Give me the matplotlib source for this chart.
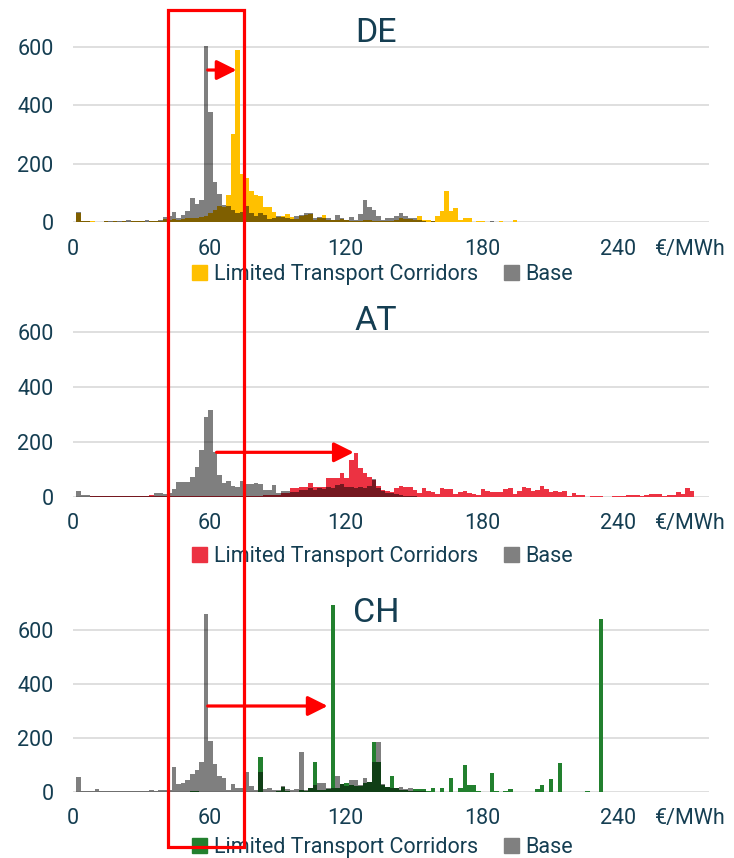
import numpy as np
import matplotlib.pyplot as plt
from matplotlib.patches import Patch, Rectangle

plt.rcParams['font.family'] = ['Roboto', 'DejaVu Sans']

# price bins of 2 €/MWh (centres), 139 bins
bin_centers = np.arange(2.5, 280, 2.0)

de_ltc = [30, 4, 5, 2, 1, 1, 2, 1, 4, 1,
          5, 1, 2, 5, 2, 1, 2, 4, 2, 10,
          8, 10, 8, 10, 15, 15, 12, 17, 20, 30,
          40, 55, 50, 91, 300, 590, 166, 150, 105, 91,
          90, 50, 50, 33, 18, 20, 27, 18, 10, 20,
          23, 28, 8, 12, 23, 8, 8, 8, 10, 8,
          5, 3, 5, 8, 6, 5, 3, 2, 5, 5,
          8, 12, 10, 10, 8, 20, 6, 6, 2, 20,
          37, 106, 37, 49, 8, 12, 13, 0, 5, 5,
          0, 0, 0, 4, 0, 0, 6, 0, 0, 0] + [0] * 39
de_base = [35, 5, 2, 1, 1, 1, 3, 4, 2, 2,
           2, 6, 2, 2, 2, 6, 2, 3, 8, 17,
           22, 34, 14, 23, 38, 83, 60, 77, 605, 377,
           137, 97, 57, 55, 40, 30, 35, 55, 30, 20,
           30, 25, 10, 15, 20, 18, 15, 10, 20, 25,
           31, 31, 12, 17, 12, 12, 8, 23, 12, 8,
           17, 8, 27, 75, 52, 40, 21, 8, 14, 14,
           21, 32, 20, 14, 12, 8, 3, 0, 2, 0,
           0, 0, 0, 0, 0, 0, 0, 0, 0, 0,
           0, 3, 0, 0, 0, 0, 0, 0, 0, 0] + [0] * 39

at_ltc = [0, 0, 0, 1, 1, 1, 1, 1, 2, 2,
          2, 2, 3, 3, 2, 3, 7, 3, 3, 3,
          3, 3, 2, 2, 3, 3, 3, 3, 4, 3,
          3, 2, 2, 2, 2, 2, 3, 3, 3, 3,
          3, 6, 6, 5, 5, 12, 15, 30, 30, 36,
          36, 51, 36, 36, 36, 67, 67, 67, 87, 67,
          133, 161, 103, 87, 73, 61, 40, 24, 22, 18,
          30, 39, 36, 36, 24, 12, 30, 20, 18, 10,
          30, 28, 28, 10, 18, 20, 12, 10, 8, 28,
          20, 18, 18, 18, 28, 33, 10, 22, 36, 30,
          22, 24, 40, 28, 18, 20, 18, 20, 3, 12,
          8, 8, 0, 2, 3, 2, 0, 0, 2, 2,
          2, 8, 8, 8, 3, 5, 10, 10, 10, 3,
          6, 8, 18, 10, 30, 20, 0, 0, 0]
at_base = [22, 8, 5, 3, 2, 1, 1, 1, 1, 1,
           1, 1, 1, 2, 2, 3, 4, 15, 15, 10,
           12, 27, 55, 55, 55, 73, 109, 172, 291, 315,
           164, 79, 51, 57, 40, 36, 57, 48, 48, 51,
           46, 24, 24, 42, 12, 20, 20, 18, 18, 24,
           24, 30, 24, 33, 27, 36, 33, 42, 46, 36,
           36, 30, 36, 30, 39, 64, 30, 21, 15, 12,
           10, 6, 3, 2, 1, 0, 0, 0, 0, 0] + [0] * 59

ch_ltc = [0, 0, 0, 0, 0, 0, 0, 0, 0, 0,
          0, 0, 0, 0, 0, 0, 0, 0, 0, 0,
          0, 0, 0, 0, 0, 3, 3, 0, 0, 0,
          0, 0, 0, 0, 0, 0, 0, 0, 0, 0,
          130, 0, 0, 0, 3, 18, 3, 0, 0, 6,
          3, 12, 109, 5, 8, 10, 692, 12, 28, 33,
          25, 22, 20, 33, 37, 185, 111, 25, 16, 58,
          12, 8, 5, 3, 9, 10, 10, 4, 12, 0,
          12, 0, 49, 0, 12, 99, 25, 25, 4, 0,
          0, 68, 2, 0, 3, 9, 0, 0, 0, 0,
          0, 9, 25, 0, 46, 0, 107, 0, 0, 0,
          0, 0, 4, 0, 0, 642, 0, 0, 0, 0] + [0] * 19
ch_base = [53, 2, 2, 3, 9, 2, 2, 4, 2, 4,
           2, 3, 2, 2, 2, 2, 6, 2, 6, 6,
           5, 93, 28, 31, 43, 64, 80, 109, 660, 188,
           101, 59, 52, 5, 27, 15, 12, 72, 22, 5,
           72, 9, 15, 6, 6, 21, 9, 6, 9, 148,
           6, 12, 25, 31, 33, 12, 12, 58, 28, 21,
           43, 43, 25, 52, 37, 111, 183, 28, 16, 14,
           15, 16, 9, 12, 3, 3, 3, 0, 0, 0] + [0] * 59

text_color = '#153E52'
grid_color = '#D9D9D9'
W, H = 734, 858

# name, ltc, base, colour, zero-line px, y max, px per unit, arrow (x0, x1, y), legend y, title baseline
panels = [
    ('DE', de_ltc, de_base, '#FFC000', 222.0, 660, 0.2917, (59.3, 72.0, 521), -0.275, 42),
    ('AT', at_ltc, at_base, '#EC3242', 496.7, 660, 0.274, (63.2, 123.6, 162), -0.333, 330),
    ('CH', ch_ltc, ch_base, '#22802E', 791.7, 720, 0.2695, (59.3, 112.1, 318), -0.29, 622),
]

fig = plt.figure(figsize=(W / 100, H / 100), dpi=100)

for name, ltc, base, col, zero_px, ymax, ppu, arrow, leg_y, title_y in panels:
    height_px = ymax * ppu
    ax = fig.add_axes([73 / W, 1 - zero_px / H, 636 / W, height_px / H])
    ax.bar(bin_centers, ltc, width=2.0, color=col, linewidth=0, zorder=2)
    ax.bar(bin_centers, base, width=2.0, color='black', alpha=0.5, linewidth=0, zorder=3)
    ax.set_xlim(0, 280)
    ax.set_ylim(0, ymax)
    ax.set_yticks([0, 200, 400, 600])
    ax.set_xticks([0, 60, 120, 180, 240, 272])
    ax.set_xticklabels(['0', '60', '120', '180', '240', '€/MWh'])
    ax.yaxis.grid(True, color=grid_color, lw=1.2, zorder=0)
    ax.set_axisbelow(True)
    for s in ax.spines.values():
        s.set_visible(False)
    ax.tick_params(axis='both', length=0, labelsize=15.5, labelcolor=text_color)
    ax.tick_params(axis='x', pad=12)
    ax.tick_params(axis='y', pad=14)

    ax.annotate('', xy=(arrow[1], arrow[2]), xytext=(arrow[0], arrow[2]),
                arrowprops=dict(arrowstyle='-|>,head_length=0.8,head_width=0.4',
                                mutation_scale=15, color='red', lw=2.3,
                                shrinkA=0, shrinkB=0), zorder=5)

    handles = [Patch(color=col), Patch(color='#808080')]
    ax.legend(handles, ['Limited Transport Corridors', 'Base'], loc='center',
              bbox_to_anchor=(0.487, leg_y), ncol=2, frameon=False, fontsize=15.5,
              handlelength=0.7, handleheight=0.7, handletextpad=0.3,
              columnspacing=1.2, labelcolor=text_color, borderaxespad=0)

    fig.text(376 / W, 1 - title_y / H, name, ha='center', va='baseline',
             fontsize=24.5, color=text_color)

# highlight box around the base price peak
fig.add_artist(Rectangle((168 / W, 1 - 847 / H), 76 / W, 837 / H,
                         transform=fig.transFigure, fill=False,
                         edgecolor='red', lw=2.3, zorder=10))

fig.savefig('out.png', dpi=100)
